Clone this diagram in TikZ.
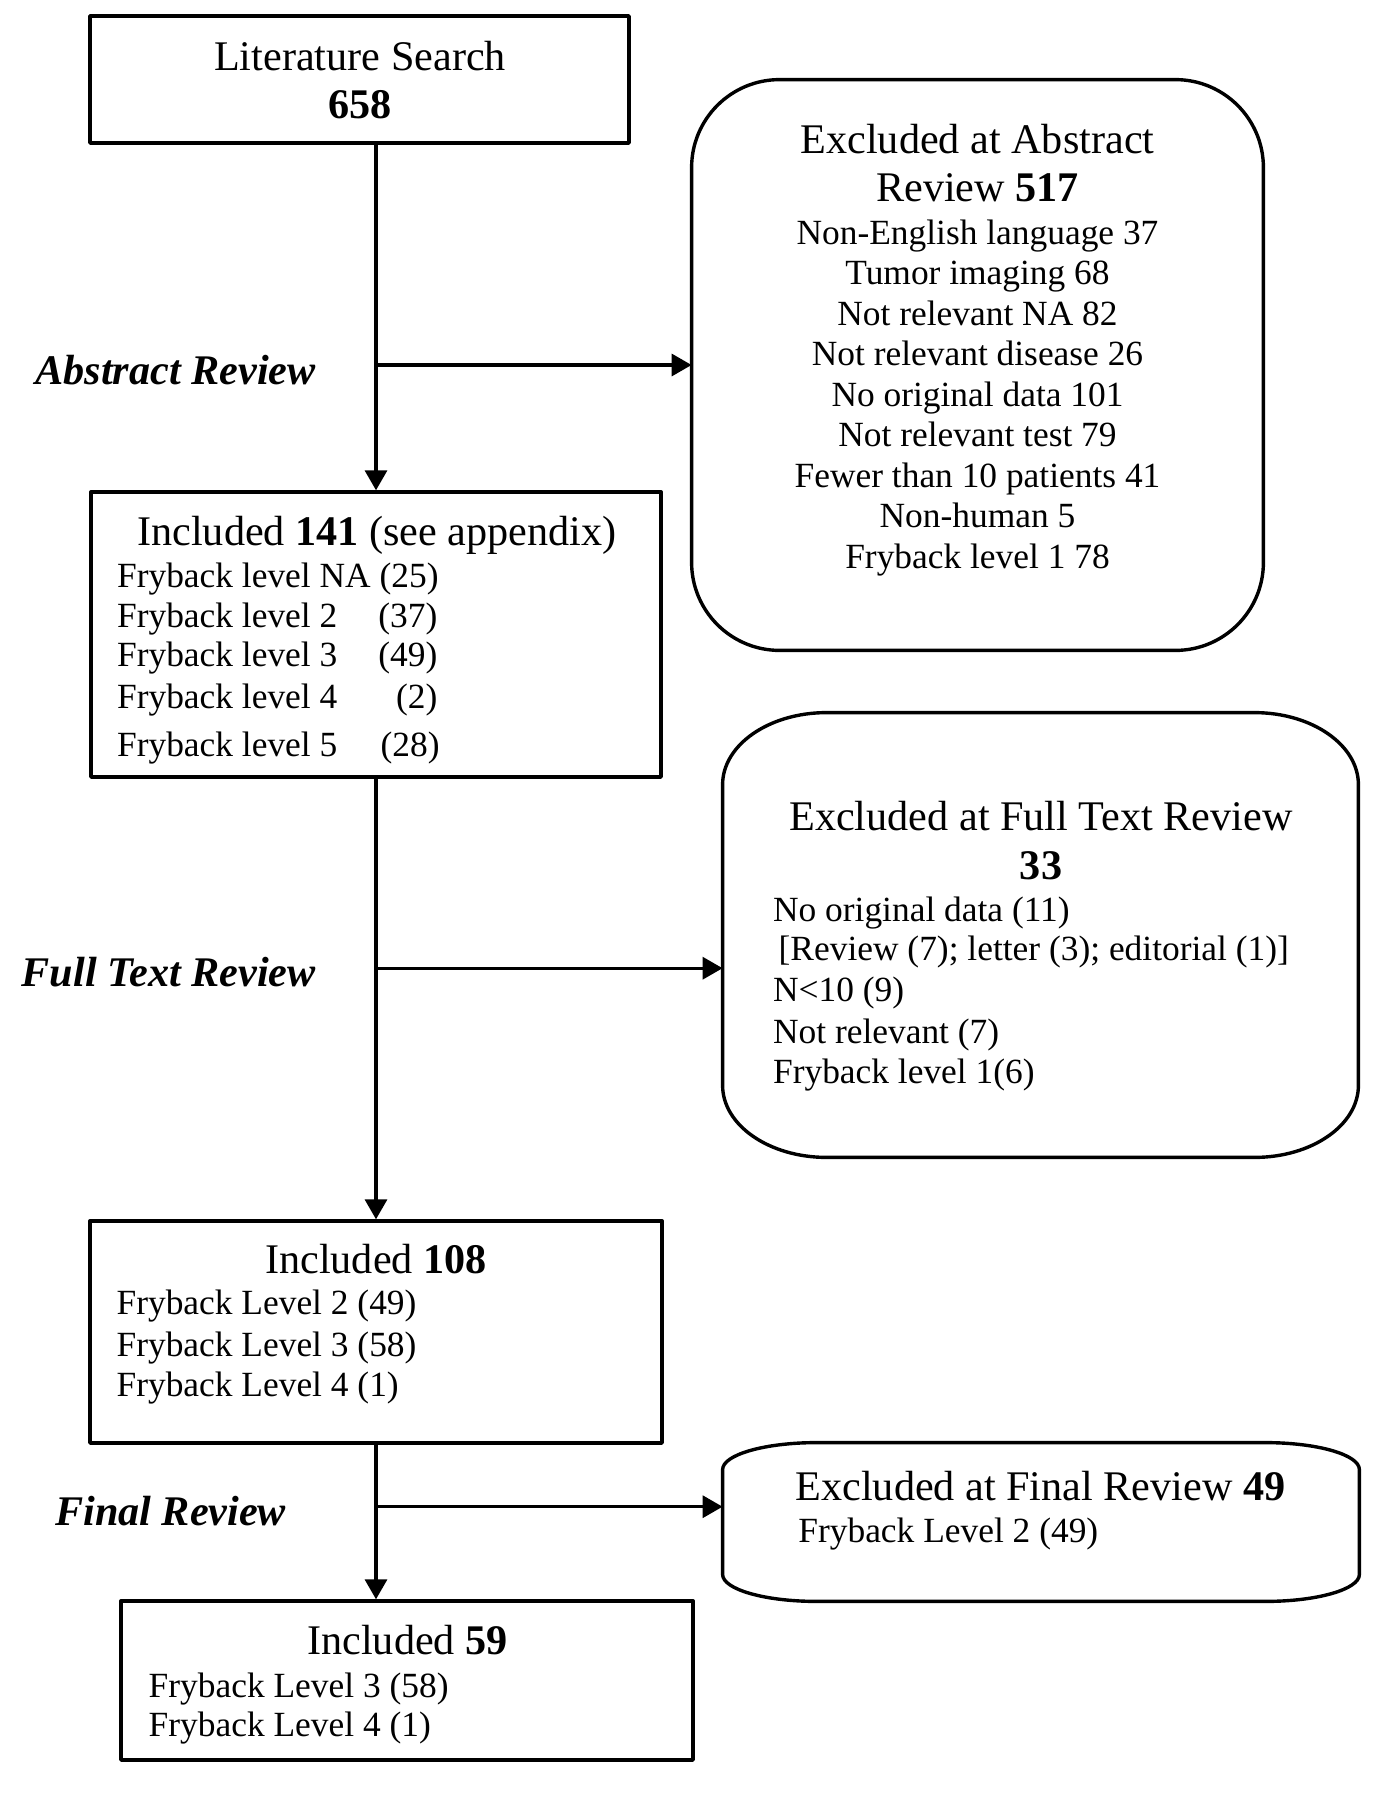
\documentclass[tikz,border=0pt]{standalone}
\usepackage{fontspec}
\setmainfont{Liberation Serif}
\usetikzlibrary{arrows.meta,fit}
\newcommand\tfont{\fontsize{21.1pt}{23.6pt}\selectfont}
\newcommand\lfont{\fontsize{17.7pt}{20.2pt}\selectfont}
% rounded box with elliptic corners: node name, x radius, y radius
\newcommand\eboxdraw[3]{%
  \draw[boxline] ([xshift=#2]#1.north west) -- ([xshift=-#2]#1.north east)
    arc[start angle=90,end angle=0,x radius=#2,y radius=#3]
    -- ([yshift=#3]#1.south east)
    arc[start angle=0,end angle=-90,x radius=#2,y radius=#3]
    -- ([xshift=#2]#1.south west)
    arc[start angle=-90,end angle=-180,x radius=#2,y radius=#3]
    -- ([yshift=-#3]#1.north west)
    arc[start angle=180,end angle=90,x radius=#2,y radius=#3] -- cycle;}
\begin{document}
\begin{tikzpicture}[x=0.5pt,y=-0.5pt,
  boxline/.style={line width=1.7pt, line join=round},
  box/.style={draw, boxline, rectangle, inner sep=0pt},
  area/.style={draw=none, rectangle, inner sep=0pt},
  conn/.style={line width=1.7pt},
  arr/.style={conn, -{Triangle[length=10pt,width=11pt]}},
  tt/.style={font=\tfont, inner sep=0pt, anchor=base},
  lt/.style={font=\lfont, inner sep=0pt, anchor=base west},
  ct/.style={font=\lfont, inner sep=0pt, anchor=base},
  cnt/.style={font=\lfont, inner sep=0pt, anchor=base east},
  lbl/.style={font=\tfont\bfseries\itshape, inner sep=0pt, anchor=base east}]
\useasboundingbox (0,0) rectangle (1395,1800);
% boxes
\node[box, fit={(90,16) (629,143)}] (lit) {};
\node[area, fit={(692,80) (1263,650)}] (exabs) {};
\eboxdraw{exabs}{44pt}{44pt}
\node[box, fit={(91,492) (661,777)}] (inc141) {};
\node[area, fit={(723,713) (1358,1157)}] (exfull) {};
\eboxdraw{exfull}{52pt}{36pt}
\node[box, fit={(90,1221) (662,1443)}] (inc108) {};
\node[area, fit={(723,1443) (1359,1601)}] (exfinal) {};
\eboxdraw{exfinal}{47pt}{13.5pt}
\node[box, fit={(121,1601) (693,1760)}] (inc59) {};
% literature search
\node[tt] (litA) at (360,70.7) {Literature Search};
\node[tt] (litB) at (360,118.6) {\textbf{658}};
% abstract review
\node[lbl] (labA) at (316,384) {Abstract Review};
\node[tt] (exabsA) at (977.5,153) {Excluded at Abstract};
\node[tt] (exabsB) at (977.5,201.7) {Review \textbf{517}};
\foreach \t [count=\i] in {Non-English language 37, Tumor imaging 68, Not relevant NA 82, Not relevant disease 26, No original data 101, Not relevant test 79, Fewer than 10 patients 41, Non-human 5, Fryback level 1 78}
  \node[ct] (exabsL\i) at (977.5,{244.3+40.5*(\i-1)}) {\t};
% included 141
\node[tt] (incA) at (377,545.7) {Included \textbf{141} (see appendix)};
\node[lt] (incL1) at (116.7,587.7) {Fryback level NA (25)};
\node[lt] (incL2) at (116.7,627.7) {Fryback level 2};
\node[cnt] (incC2) at (437.7,627.7) {(37)};
\node[lt] (incL3) at (116.7,666.7) {Fryback level 3};
\node[cnt] (incC3) at (437.7,666.7) {(49)};
\node[lt] (incL4) at (116.7,708.3) {Fryback level 4};
\node[cnt] (incC4) at (437.7,708.3) {(2)};
\node[lt] (incL5) at (116.7,756) {Fryback level 5};
\node[cnt] (incC5) at (440,756) {(28)};
% full text review
\node[lbl] (labB) at (316,986.5) {Full Text Review};
\node[tt] (exfullA) at (1041,830) {Excluded at Full Text Review};
\node[tt] (exfullB) at (1041,879.4) {\textbf{33}};
\node[lt] (exfullL1) at (772.7,921.7) {No original data (11)};
\node[lt] (exfullL2) at (778.3,960) {[Review (7); letter (3); editorial (1)]};
\node[lt] (exfullL3) at (772.7,1001.8) {N<10 (9)};
\node[lt] (exfullL4) at (772.7,1043.2) {Not relevant (7)};
\node[lt] (exfullL5) at (772.7,1083) {Fryback level 1(6)};
% included 108
\node[tt] (i108A) at (376,1273.9) {Included \textbf{108}};
\node[lt] (i108L1) at (116.2,1314.8) {Fryback Level 2 (49)};
\node[lt] (i108L2) at (116.2,1356.1) {Fryback Level 3 (58)};
\node[lt] (i108L3) at (116.2,1396.3) {Fryback Level 4 (1)};
% final review
\node[lbl] (labC) at (286.5,1525.3) {Final Review};
\node[tt] (exfinA) at (1040.5,1500) {Excluded at Final Review \textbf{49}};
\node[lt] (exfinL1) at (798,1542.5) {Fryback Level 2 (49)};
% included 59
\node[tt] (i59A) at (407.5,1654) {Included \textbf{59}};
\node[lt] (i59L1) at (148.3,1697.7) {Fryback Level 3 (58)};
\node[lt] (i59L2) at (148.3,1736.7) {Fryback Level 4 (1)};
% connectors
\coordinate (j1) at (376,365);
\coordinate (j2) at (376,968.2);
\coordinate (j3) at (376,1506.7);
\draw[arr] (lit.south -| inc141.north) -- (inc141.north);
\draw[arr] (j1) -- (j1 -| exabs.west);
\draw[arr] (inc141.south) -- (inc141.south |- inc108.north);
\draw[arr] (j2) -- (j2 -| exfull.west);
\draw[arr] (inc108.south -| j3) -- (j3 |- inc59.north);
\draw[arr] (j3) -- (j3 -| exfinal.west);
\end{tikzpicture}
\end{document}
